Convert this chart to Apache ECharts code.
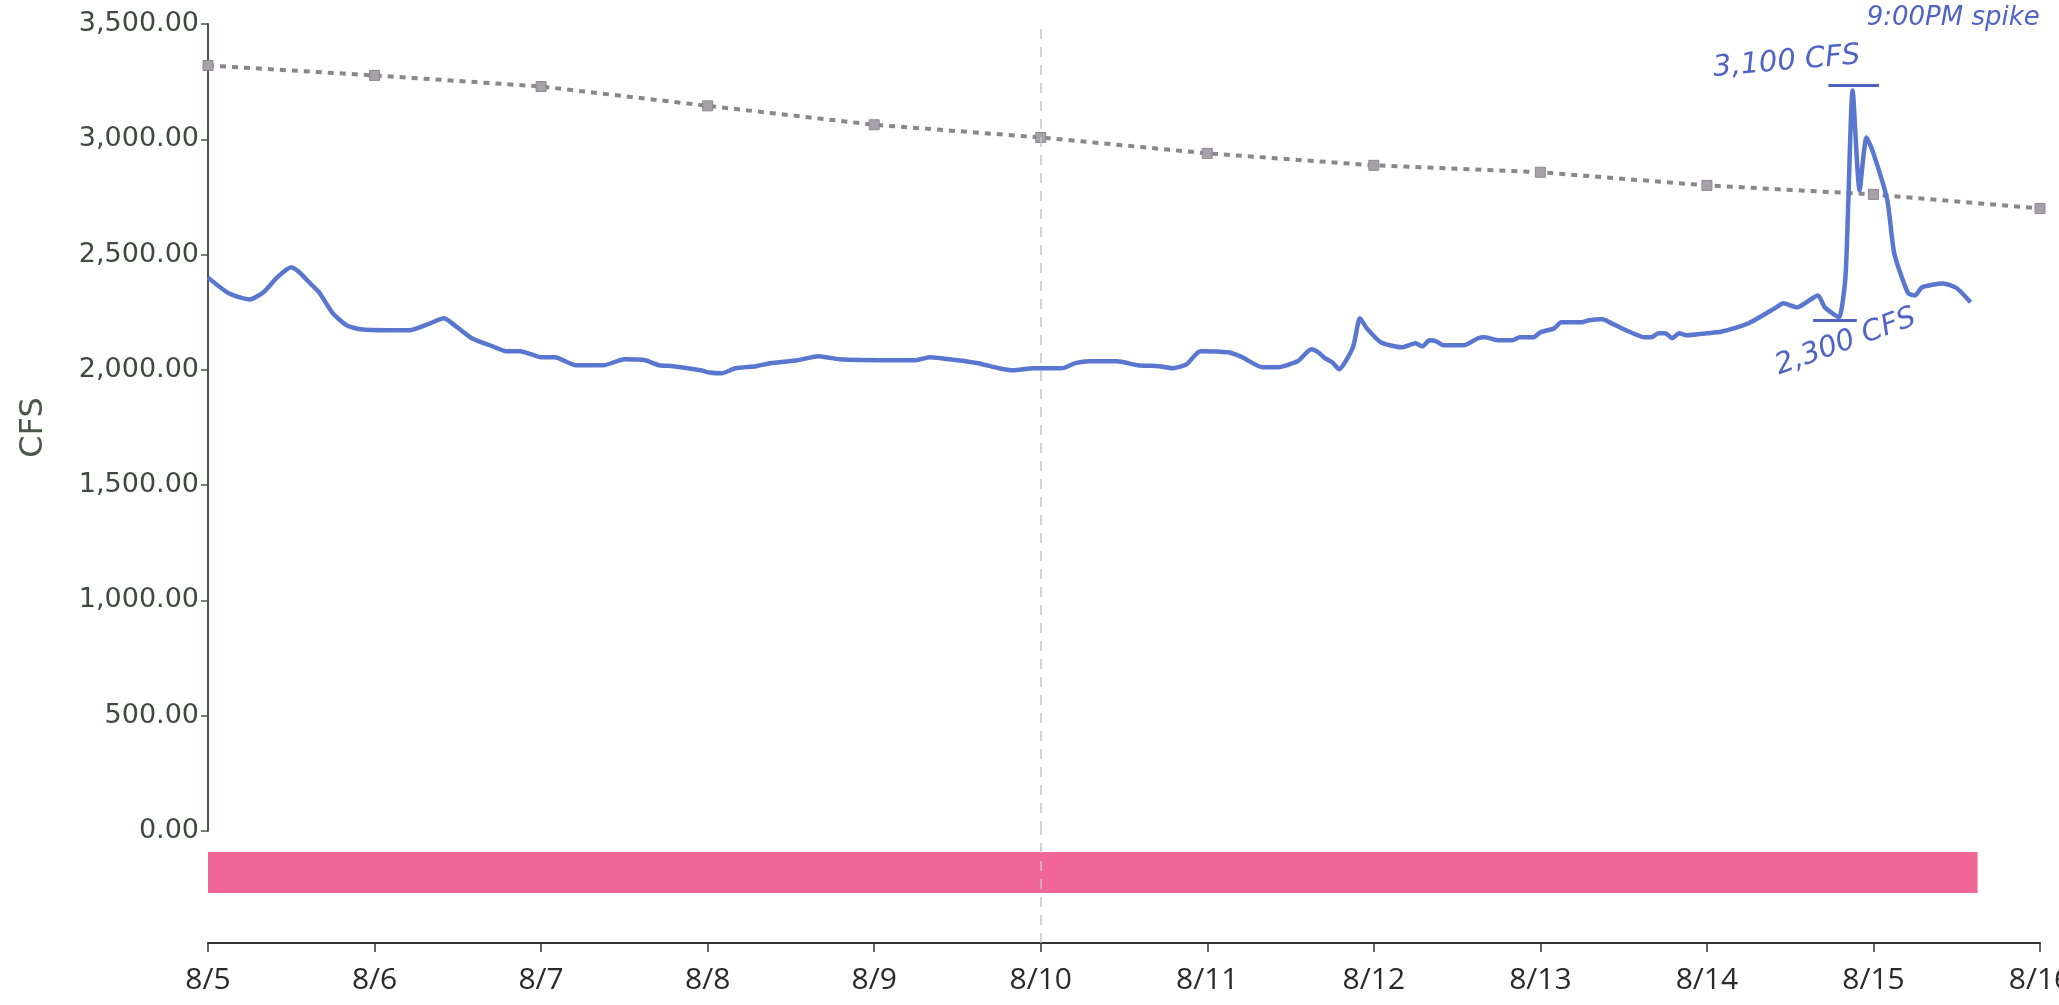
<!DOCTYPE html>
<html><head><meta charset="utf-8">
<script src="https://cdn.jsdelivr.net/npm/echarts@6/dist/echarts.min.js"></script>
<style>html,body{margin:0;padding:0;background:#fff}#c{width:2059px;height:1005px}</style>
</head><body><div id="c"></div>
<script>
// ---- data ----
const dayLabels = ['8/5','8/6','8/7','8/8','8/9','8/10','8/11','8/12','8/13','8/14','8/15','8/16'];
// hours since 8/5 00:00
const flowHours = [0,3,6,8,10,12,13,15,16,18,20,22,26,29,32,34,35,38,41,43,45,48,50,53,57,60,63,65,67,71,72,74,76,79,81,85,88,91,98,102,104,108,111,114,116,119,123,125,127,131,134,137,139,141,143,147,149,152,154,157,159,160,161,162,163,165,166,167,169,172,174,175,176,177,178,181,183,184,186,188,189,191,192,194,195,198,199,201,202,204,205,207,208,209,210,211,212,213,216,218,222,226,227,229,232,233,235,236,237,238,239,240,242,243,245,246,247,250,252,254];
const flowCfs = [2400,2332,2305,2337,2402,2445,2428,2367,2337,2245,2193,2176,2172,2172,2202,2224,2206,2137,2102,2081,2081,2055,2055,2020,2020,2046,2042,2020,2016,1998,1990,1985,2007,2016,2029,2042,2059,2046,2042,2042,2055,2042,2029,2007,1998,2007,2007,2029,2037,2037,2020,2016,2007,2024,2081,2076,2055,2011,2011,2037,2089,2076,2050,2033,2003,2098,2224,2180,2120,2098,2115,2102,2128,2124,2107,2107,2137,2141,2128,2128,2141,2141,2163,2180,2206,2206,2215,2219,2206,2176,2163,2141,2141,2159,2159,2137,2159,2150,2159,2165,2202,2271,2289,2271,2323,2271,2228,2419,3212,2779,3008,2939,2735,2505,2332,2323,2358,2375,2354,2293];
const trendHours = [0,24,48,72,96,120,144,168,192,216,240,264];
const trendCfs = [3320,3277,3229,3145,3063,3008,2939,2887,2857,2800,2761,2700];
const bandStartHour = [0];
const bandEndHour = [255];
const refLineHour = 120;
// handwritten notes
const noteTexts = ['9:00PM spike', '3,100 CFS', '2,300 CFS'];
const noteHours = [251.5, 227.5, 236];
const noteCfs = [3525, 3335, 2120];
const noteRotate = [0, 5, 20];
const noteSize = [26, 29, 29];
// handwritten bracket marks
const capFrom = [233.5, 231.3];
const capTo = [240.8, 237.6];
const capCfs = [3234, 2215];

const INK = '#5064c4';
const chart = echarts.init(document.getElementById('c'), null, {renderer: 'canvas'});

const option = {
  animation: false,
  backgroundColor: '#ffffff',
  grid: [
    {left: 208, right: 19, top: 24, bottom: 174, outerBoundsMode: 'none', containLabel: false},
    {left: 208, right: 19, top: 831, bottom: 62, outerBoundsMode: 'none', containLabel: false}
  ],
  xAxis: [
    {type: 'value', gridIndex: 0, min: 0, max: 264, interval: 24, show: false},
    {type: 'value', gridIndex: 1, min: 0, max: 264, interval: 24,
      axisLine: {show: true, lineStyle: {color: '#333', width: 2}},
      axisTick: {show: true, length: 9, lineStyle: {color: '#333', width: 1.5}},
      splitLine: {show: false},
      axisLabel: {formatter: v => dayLabels[Math.round(v / 24)], fontFamily: 'Open Sans', fontSize: 30, color: '#2a2a2a', margin: 22,
        showMinLabel: true, showMaxLabel: true, hideOverlap: false}
    }
  ],
  yAxis: [
    {type: 'value', gridIndex: 0, min: 0, max: 3500, interval: 500,
      name: 'CFS', nameLocation: 'middle', nameRotate: 90, nameGap: 158,
      nameTextStyle: {fontFamily: 'DejaVu Sans', fontSize: 32, color: '#4a574a'},
      axisLine: {show: true, lineStyle: {color: '#4a554a', width: 2}},
      axisTick: {show: true, length: 7, lineStyle: {color: '#4a554a', width: 1.5}},
      splitLine: {show: false},
      axisLabel: {formatter: v => v.toLocaleString('en-US', {minimumFractionDigits: 2, maximumFractionDigits: 2}),
        fontFamily: 'DejaVu Sans', fontSize: 27, color: '#3f4a3f', margin: 9}
    },
    {type: 'value', gridIndex: 1, min: 0, max: 1, show: false}
  ],
  series: [
    {
      type: 'line', xAxisIndex: 0, yAxisIndex: 0, name: 'trend',
      data: trendHours.map((h, i) => [h, trendCfs[i]]),
      symbol: 'rect', symbolSize: 10, showSymbol: true,
      itemStyle: {color: '#a7a0aa', borderColor: '#8e8890', borderWidth: 1},
      lineStyle: {color: '#8a868c', width: 4, type: [6, 6]},
      z: 2
    },
    {
      type: 'line', xAxisIndex: 0, yAxisIndex: 0, name: 'flow',
      data: flowHours.map((h, i) => [h, flowCfs[i]]),
      showSymbol: false, smooth: 0.2,
      lineStyle: {color: '#5a77cf', width: 4.5},
      z: 3,
      markLine: {
        silent: true, symbol: 'none', label: {show: false},
        data: [
          [{coord: [refLineHour, 0], lineStyle: {color: '#c4c4c4', width: 1.5, type: [10, 8]}}, {coord: [refLineHour, 3500]}],
          ...capCfs.map((c, i) => [{coord: [capFrom[i], c], lineStyle: {color: INK, width: 3, type: 'solid'}}, {coord: [capTo[i], c]}])
        ]
      }
    },
    {
      type: 'custom', xAxisIndex: 1, yAxisIndex: 1, name: 'band',
      data: bandStartHour.map((s, i) => [s, bandEndHour[i]]),
      encode: {x: [0, 1]},
      renderItem: function (params, api) {
        const p0 = api.coord([api.value(0), 0.8125]);
        const p1 = api.coord([api.value(1), 0.446]);
        return {type: 'rect', shape: {x: p0[0], y: p0[1], width: p1[0] - p0[0], height: p1[1] - p0[1]}, style: {fill: '#f06797'}};
      },
      z: 2
    },
    {
      type: 'line', xAxisIndex: 1, yAxisIndex: 1, data: [], name: 'ref',
      markLine: {silent: true, symbol: 'none', label: {show: false},
        data: [[{coord: [refLineHour, 0], lineStyle: {color: '#c4c4c4', width: 1.5, type: [10, 8]}}, {coord: [refLineHour, 1]}]]},
      z: 3
    }
  ]
};
chart.setOption(option);

const graphics = noteTexts.map((t, i) => {
  const p = chart.convertToPixel({gridIndex: 0}, [noteHours[i], noteCfs[i]]);
  return {
    type: 'text', x: p[0], y: p[1], rotation: noteRotate[i] * Math.PI / 180,
    style: {text: t, fill: INK, font: 'italic ' + noteSize[i] + 'px "DejaVu Sans"', textAlign: 'center', textVerticalAlign: 'middle'},
    z: 10
  };
});
chart.setOption({graphic: graphics});
</script>
</body></html>
